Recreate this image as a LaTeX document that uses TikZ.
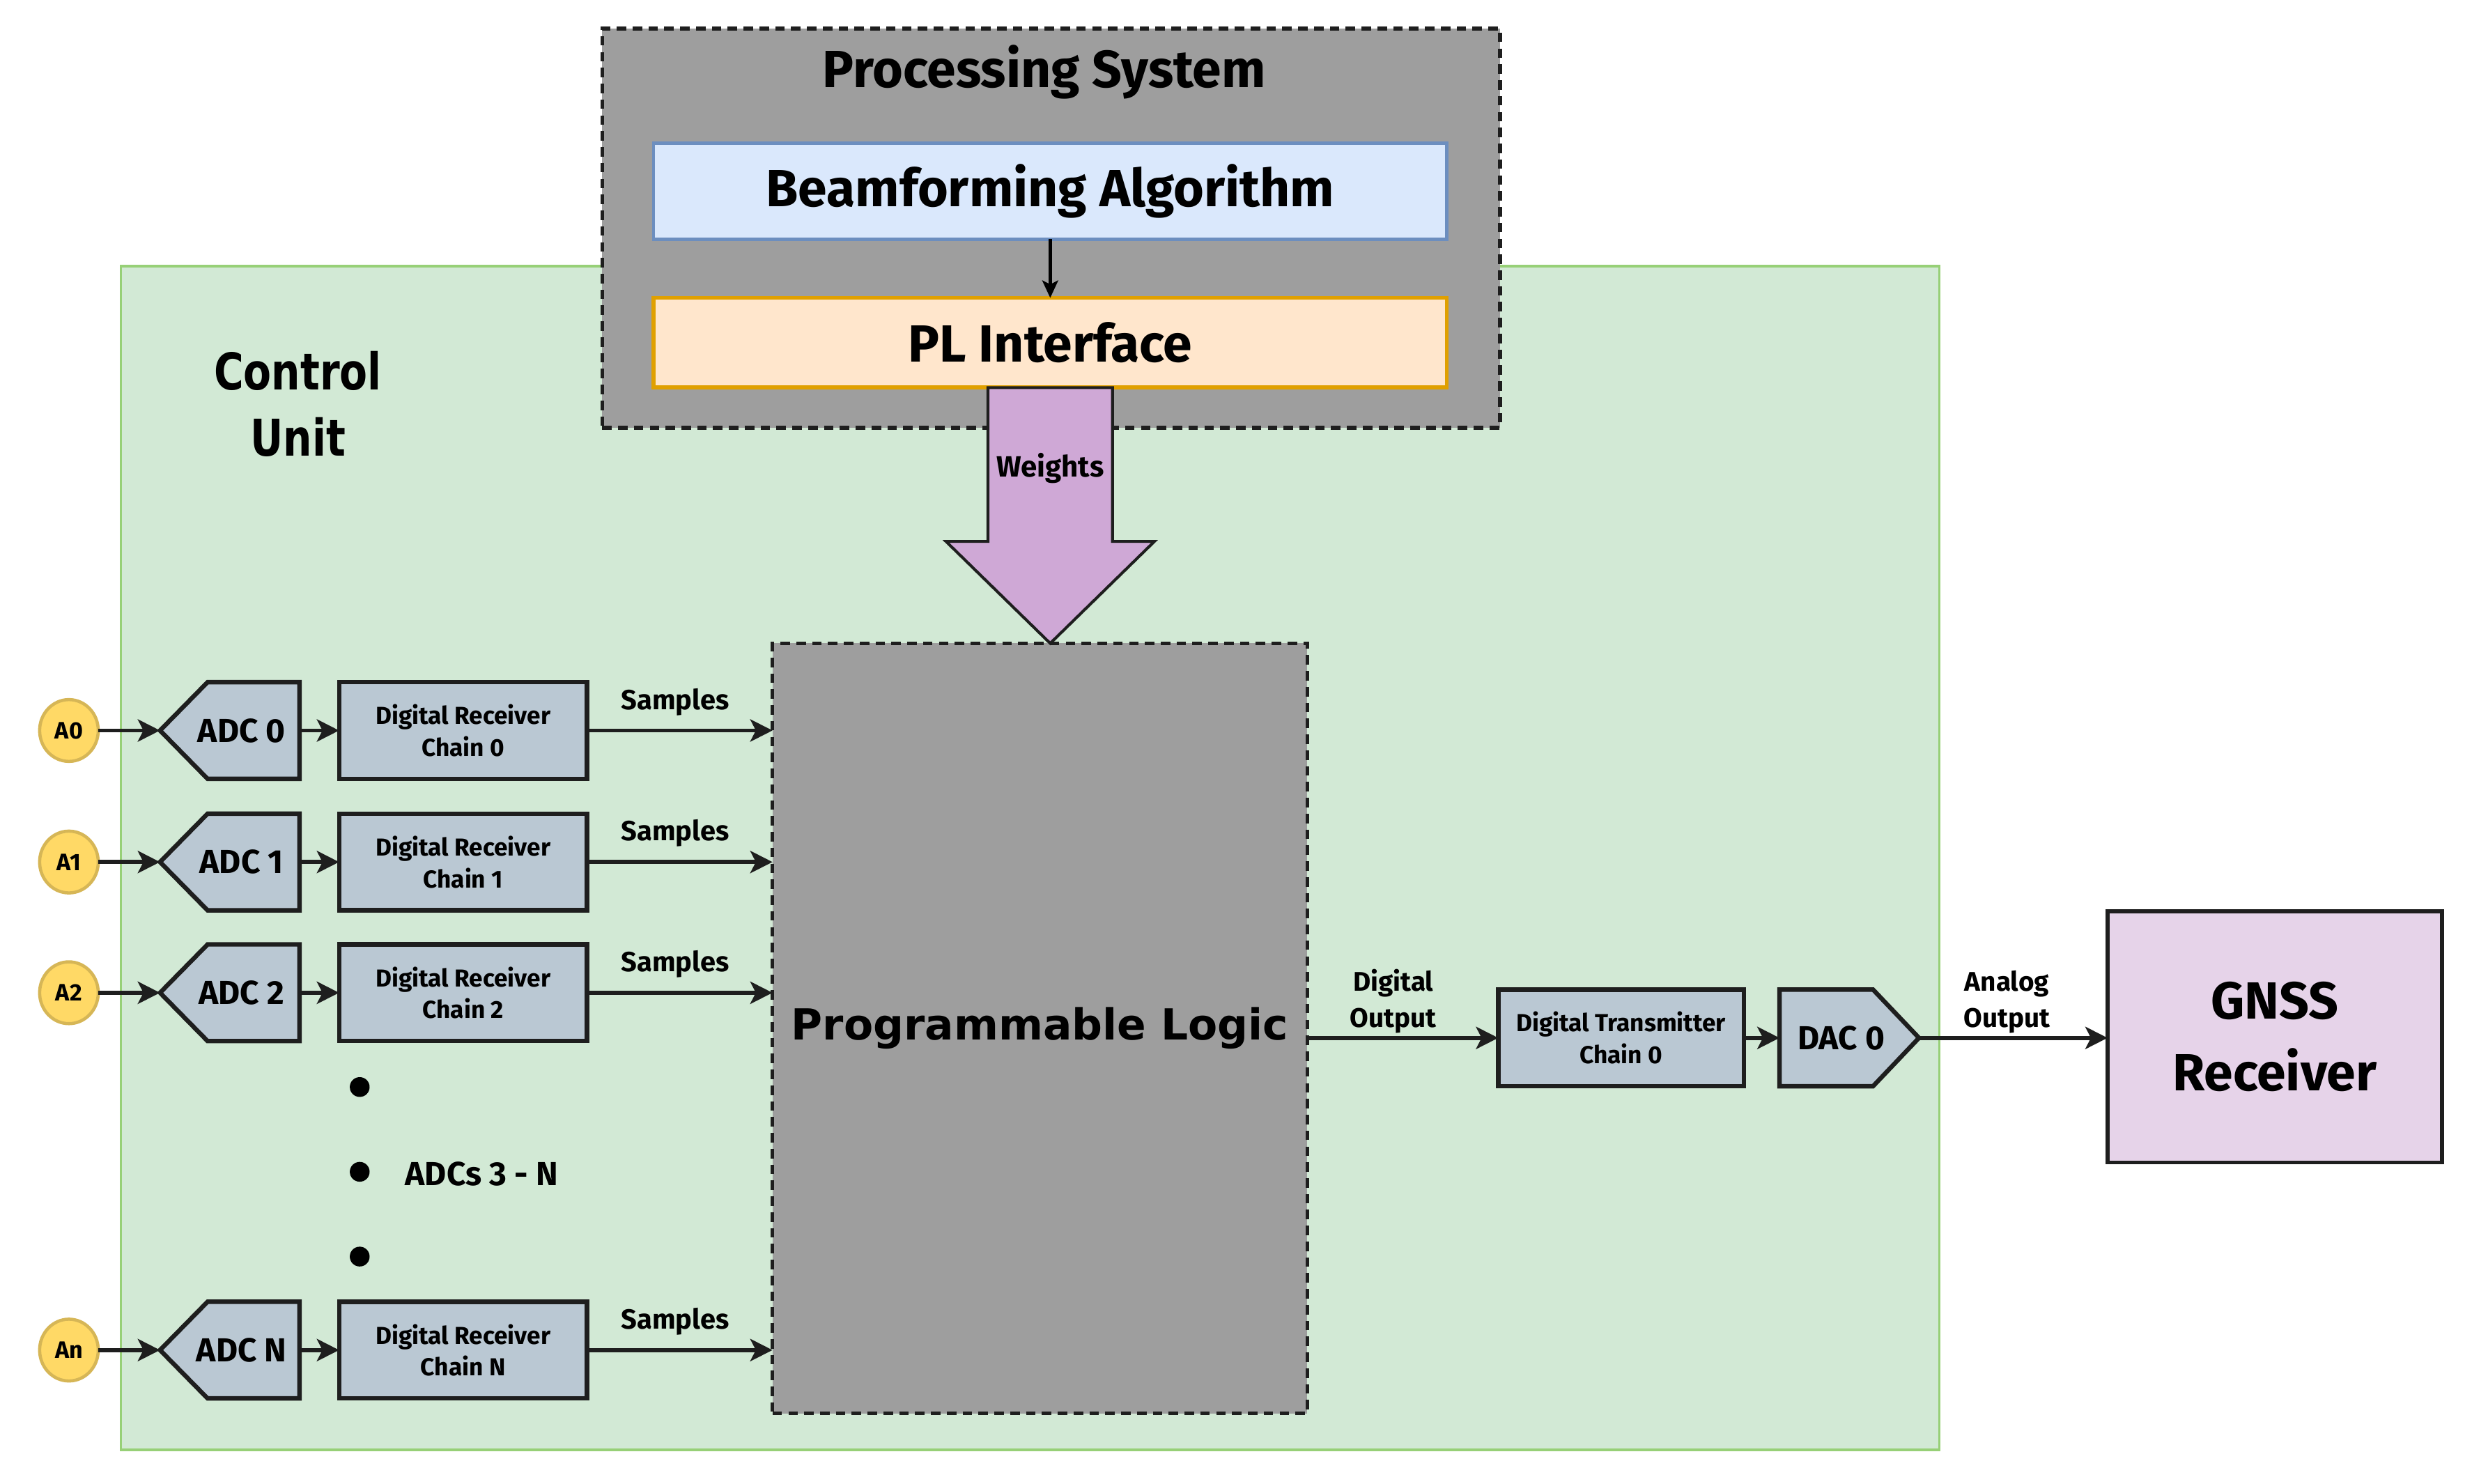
\documentclass[tikz,border=0pt]{standalone}
\usepackage{fontspec}
\setmainfont{Fira Sans}
\newfontfamily\plfont{DejaVu Sans}
\usetikzlibrary{arrows.meta,shapes.geometric}
\definecolor{cugreen}{HTML}{D2E9D5}
\definecolor{cugreenline}{HTML}{97D077}
\definecolor{psgray}{HTML}{9E9E9E}
\definecolor{bfblue}{HTML}{DAE8FC}
\definecolor{bfline}{HTML}{6C8EBF}
\definecolor{plorange}{HTML}{FFE6CC}
\definecolor{plline}{HTML}{E0A000}
\definecolor{wpurple}{HTML}{CFA8D6}
\definecolor{adcfill}{HTML}{BAC8D3}
\definecolor{antfill}{HTML}{FFD966}
\definecolor{antline}{HTML}{D6B656}
\definecolor{gnssfill}{HTML}{E6D3E9}
\definecolor{darkline}{HTML}{1E1E1E}
\newcommand\narrowtxt[1]{\scalebox{0.8}[1]{#1}}
\tikzset{
  every node/.style={inner sep=0pt, outer sep=0pt},
  cubox/.style={rectangle, draw=cugreenline, line width=1.5pt, fill=cugreen},
  dashbox/.style={rectangle, draw=darkline, line width=2.4pt, dash pattern=on 6pt off 4pt, fill=psgray},
  titlefont/.style={font=\fontsize{33}{38}\selectfont\bfseries},
  bfbox/.style={rectangle, draw=bfline, line width=2pt, fill=bfblue, minimum width=500.5pt, minimum height=60.6pt, titlefont},
  plibox/.style={rectangle, draw=plline, line width=2.5pt, fill=plorange, minimum width=500.5pt, minimum height=56.6pt, titlefont},
  plbox/.style={dashbox, minimum width=337.5pt, minimum height=486pt, font=\fontsize{27}{32}\selectfont\plfont\bfseries},
  ant/.style={ellipse, draw=antline, line width=2pt, fill=antfill, minimum width=37pt, minimum height=39pt, font=\fontsize{15}{17}\selectfont\bfseries},
  adcshape/.style={fill=adcfill, draw=darkline, line width=2.8pt, line join=miter},
  adcnode/.style={rectangle, minimum width=88pt, minimum height=61pt, font=\fontsize{21}{25}\selectfont\bfseries},
  drc/.style={rectangle, draw=darkline, line width=2.8pt, fill=adcfill, minimum width=156.5pt, minimum height=61pt, align=center, font=\fontsize{15.5}{20}\selectfont\bfseries},
  gnss/.style={rectangle, draw=darkline, line width=2.4pt, fill=gnssfill, minimum width=211pt, minimum height=158.6pt, align=center, font=\fontsize{33}{45.3}\selectfont\bfseries},
  conn/.style={draw=darkline, line width=2.6pt, -{Stealth[length=14pt,width=14pt,inset=3.5pt]}},
  thinconn/.style={draw=black, line width=2pt, -{Stealth[length=11pt,width=10pt,inset=2.5pt]}},
  lbl/.style={font=\fontsize{17.5}{20}\selectfont\bfseries},
  outlbl/.style={align=center, font=\fontsize{17}{23}\selectfont\bfseries},
  dotnode/.style={circle, fill=black, minimum size=12.5pt},
  weightsarrow/.style={fill=wpurple, draw=darkline, line width=1.8pt, line join=miter}
}
\begin{document}
\begin{tikzpicture}[x=1pt,y=-1pt]
\useasboundingbox (0,0) rectangle (1560,936.5);
% control unit
\node[cubox, minimum width=1147.4pt, minimum height=747pt] (cu) at (650.1,541.5) {};
\node[align=center, font=\fontsize{32}{42}\selectfont\plfont\bfseries] (cutitle) at (188,255) {\narrowtxt{Control}\\\narrowtxt{Unit}};
% processing system
\node[dashbox, minimum width=566.6pt, minimum height=252pt] (ps) at (663.3,144) {};
\node[titlefont, anchor=base] (pstitle) at (659,55.3) {Processing System};
\node[bfbox] (bf) at (662.75,120.7) {Beamforming Algorithm};
\node[plibox] (pli) at (662.75,216.3) {PL Interface};
\draw[thinconn] (bf) -- (pli);
% programmable logic
\node[plbox] (pl) at (656.25,649) {Programmable Logic};
% weights arrow
\coordinate (wtip) at (pli.south |- pl.north);
\path[weightsarrow] (623.45,244.6) -- (623.45,341.7) -- (597,341.7) -- (wtip) -- (728.5,341.7) -- (702.05,341.7) -- (702.05,244.6) -- cycle;
\node[font=\fontsize{18.5}{22}\selectfont\bfseries, anchor=base] (wlab) at (662.75,300.8) {Weights};
% receive chains
\foreach \i/\y/\a/\n in {0/461/A0/0, 1/544/A1/1, 2/626.5/A2/2, n/852/An/N}{
  \node[ant] (a\i) at (43.5,\y) {\a};
  \path[adcshape] (101,\y) -- (131,{\y-30.5}) -- (189,{\y-30.5}) -- (189,{\y+30.5}) -- (131,{\y+30.5}) -- cycle;
  \node[adcnode] (adc\i) at (145,\y) {\hspace*{15pt}ADC \n};
  \node[drc] (drc\i) at (292.25,\y) {Digital Receiver\\Chain \n};
  \draw[conn] (a\i) -- (adc\i.west);
  \draw[conn] (adc\i) -- (drc\i);
  \draw[conn] (drc\i) -- (drc\i -| pl.west) node[midway, lbl, anchor=base, xshift=-3pt, yshift=13.4pt] {Samples};
}
\node[dotnode] (dot1) at (227,686) {};
\node[dotnode] (dot2) at (227,739.5) {};
\node[dotnode] (dot3) at (227,793) {};
\node[font=\fontsize{21}{25}\selectfont\bfseries] (adcsn) at (304,741) {ADCs 3 - N};
% transmit chain
\node[drc, minimum width=155pt] (dtc) at (1023,655) {Digital Transmitter\\Chain 0};
\path[adcshape] (1123,624.5) -- (1182,624.5) -- (1211,655) -- (1182,685.5) -- (1123,685.5) -- cycle;
\node[adcnode] (dac) at (1167,655) {DAC 0\hspace*{10pt}};
\node[gnss] (gnss) at (1435.5,654.3) {GNSS\\Receiver};
\draw[conn] (pl.east |- dtc.west) -- (dtc.west) node[midway, outlbl, anchor=south, xshift=-6pt, yshift=3pt] {Digital\\Output};
\draw[conn] (dtc) -- (dac);
\draw[conn] (dac.east) -- (gnss.west |- dac.east) node[midway, outlbl, anchor=south, xshift=-4pt, yshift=3pt] {Analog\\Output};
\end{tikzpicture}
\end{document}
